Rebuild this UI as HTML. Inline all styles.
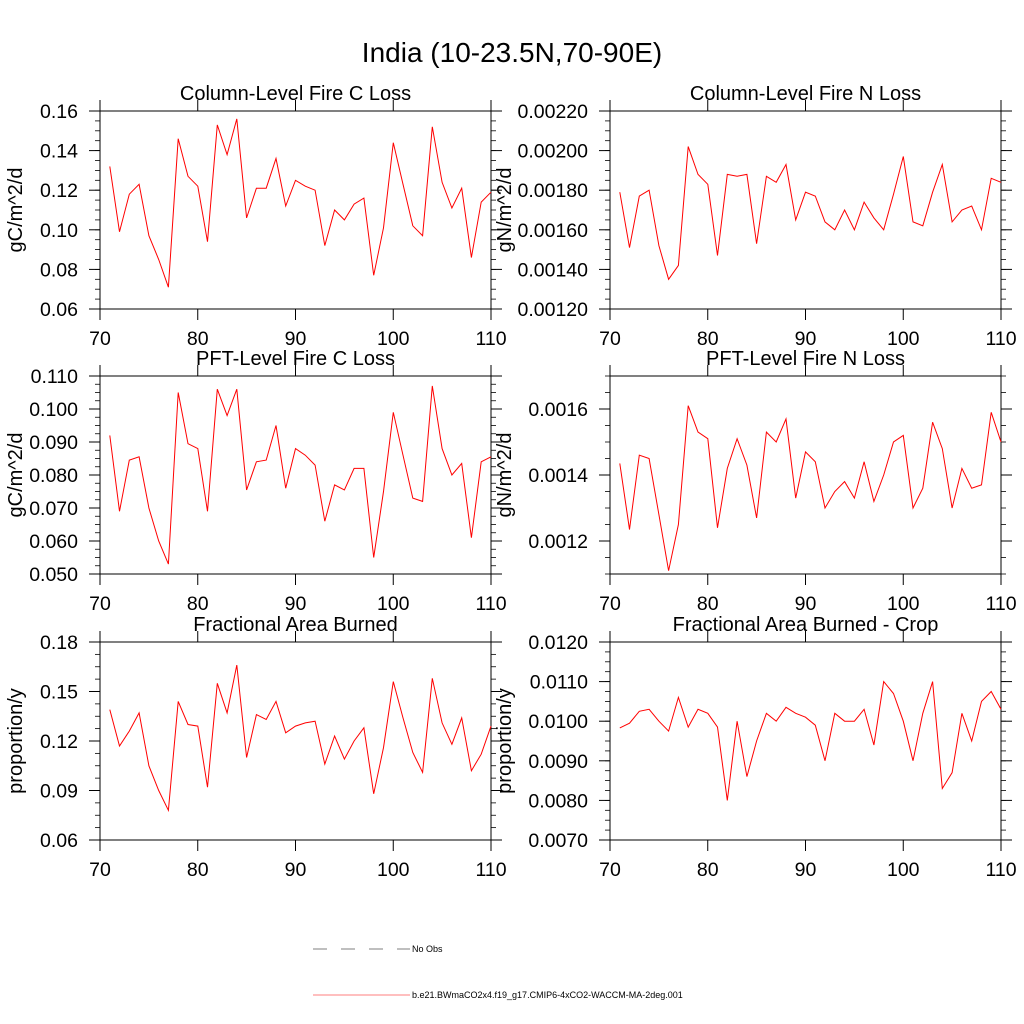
<!DOCTYPE html>
<html><head><meta charset="utf-8"><style>
body{margin:0;background:#fff}
svg{display:block;font-family:"Liberation Sans",sans-serif}
</style></head><body>
<svg id="chart" width="1024" height="1024" viewBox="0 0 1024 1024">
<rect width="1024" height="1024" fill="#fff"/>
<text x="512" y="62" font-size="28" text-anchor="middle">India (10-23.5N,70-90E)</text>
<g id="panels"></g>
<g>
<line x1="313" y1="949" x2="410" y2="949" stroke="#000" stroke-width="0.6" stroke-dasharray="14,14"/>
<text x="412" y="952" font-size="9">No Obs</text>
<line x1="313" y1="995" x2="410" y2="995" stroke="red" stroke-width="0.6"/>
<text x="412" y="998" font-size="9">b.e21.BWmaCO2x4.f19_g17.CMIP6-4xCO2-WACCM-MA-2deg.001</text>
</g>
</svg>
<script>
const years = Array.from({length:40},(_,i)=>71+i);
const colC = [0.132,0.099,0.118,0.123,0.097,0.085,0.071,0.146,0.127,0.122,0.094,0.153,0.138,0.156,0.106,0.121,0.121,0.136,0.112,0.125,0.122,0.120,0.092,0.110,0.105,0.113,0.116,0.077,0.101,0.144,0.123,0.102,0.097,0.152,0.124,0.111,0.121,0.086,0.114,0.119];
const colN = [0.00179,0.00151,0.00177,0.00180,0.00152,0.00135,0.00142,0.00202,0.00188,0.00183,0.00147,0.00188,0.00187,0.00188,0.00153,0.00187,0.00184,0.00193,0.00165,0.00179,0.00177,0.00164,0.00160,0.00170,0.00160,0.00174,0.00166,0.00160,0.00178,0.00197,0.00164,0.00162,0.00179,0.00193,0.00164,0.00170,0.00172,0.00160,0.00186,0.00184];
const pftC = [0.092,0.069,0.0845,0.0855,0.070,0.060,0.053,0.105,0.0895,0.088,0.069,0.106,0.098,0.106,0.0755,0.084,0.0845,0.095,0.076,0.088,0.086,0.083,0.066,0.077,0.0755,0.082,0.082,0.055,0.075,0.099,0.086,0.073,0.072,0.107,0.088,0.080,0.0835,0.061,0.084,0.0855];
const pftN = [0.001435,0.001235,0.00146,0.00145,0.00128,0.00111,0.00125,0.00161,0.00153,0.00151,0.00124,0.00142,0.00151,0.00143,0.00127,0.00153,0.0015,0.00157,0.00133,0.00147,0.00144,0.0013,0.00135,0.00138,0.00133,0.00144,0.00132,0.0014,0.0015,0.00152,0.0013,0.00136,0.00156,0.00148,0.0013,0.00142,0.00136,0.00137,0.00159,0.0015];
const fab = [0.139,0.117,0.126,0.137,0.105,0.090,0.078,0.144,0.130,0.129,0.092,0.155,0.137,0.166,0.110,0.136,0.133,0.144,0.125,0.129,0.131,0.132,0.106,0.123,0.109,0.120,0.128,0.088,0.116,0.156,0.134,0.113,0.101,0.158,0.131,0.118,0.134,0.102,0.112,0.129];
const fabCrop = [0.00983,0.00995,0.01025,0.0103,0.0100,0.00975,0.0106,0.00985,0.0103,0.0102,0.00985,0.0080,0.0100,0.0086,0.0095,0.0102,0.0100,0.01035,0.0102,0.0101,0.0099,0.0090,0.0102,0.0100,0.0100,0.0103,0.0094,0.0110,0.0107,0.0100,0.0090,0.0102,0.0110,0.0083,0.0087,0.0102,0.0095,0.0105,0.01075,0.0103];
const xTicks = [70,80,90,100,110];
const ticksColC = ["0.06","0.08","0.10","0.12","0.14","0.16"];
const ticksColN = ["0.00120","0.00140","0.00160","0.00180","0.00200","0.00220"];
const ticksPftC = ["0.050","0.060","0.070","0.080","0.090","0.100","0.110"];
const ticksPftN = ["0.0012","0.0014","0.0016"];
const ticksFab = ["0.06","0.09","0.12","0.15","0.18"];
const ticksCrop = ["0.0070","0.0080","0.0090","0.0100","0.0110","0.0120"];

const NS="http://www.w3.org/2000/svg";
const root=document.getElementById('panels');
function mk(tag,attrs,parent){const e=document.createElementNS(NS,tag);for(const k in attrs)e.setAttribute(k,attrs[k]);parent.appendChild(e);return e;}

const panels=[
 {name:'column-fire-c',title:'Column-Level Fire C Loss',ylab:'gC/m^2/d',data:colC,ticks:ticksColC,ymin:0.06,ymax:0.16,minor:0.005,x0:100,y0:111,yl:85},
 {name:'column-fire-n',title:'Column-Level Fire N Loss',ylab:'gN/m^2/d',data:colN,ticks:ticksColN,ymin:0.0012,ymax:0.0022,minor:0.00005,x0:610,y0:111,yl:106},
 {name:'pft-fire-c',title:'PFT-Level Fire C Loss',ylab:'gC/m^2/d',data:pftC,ticks:ticksPftC,ymin:0.05,ymax:0.11,minor:0.0025,x0:100,y0:376,yl:85},
 {name:'pft-fire-n',title:'PFT-Level Fire N Loss',ylab:'gN/m^2/d',data:pftN,ticks:ticksPftN,ymin:0.0011,ymax:0.0017,minor:0.00005,x0:610,y0:376,yl:106},
 {name:'fraction-burned',title:'Fractional Area Burned',ylab:'proportion/y',data:fab,ticks:ticksFab,ymin:0.06,ymax:0.18,minor:0.0075,x0:100,y0:642,yl:85},
 {name:'fraction-burned-crop',title:'Fractional Area Burned - Crop',ylab:'proportion/y',data:fabCrop,ticks:ticksCrop,ymin:0.007,ymax:0.012,minor:0.00025,x0:610,y0:642,yl:106}
];
const W=391,H=198;
panels.forEach(p=>{
 const g=mk('g',{},root);
 
 
 const xs=v=>p.x0+(v-70)/40*W;
 const ys=v=>p.y0+H-(v-p.ymin)/(p.ymax-p.ymin)*H;
 const t=mk('text',{x:p.x0+W/2,y:p.y0-11,'font-size':20,'text-anchor':'middle'},g);t.textContent=p.title;
 
 
 const fr=mk('rect',{x:p.x0,y:p.y0,width:W,height:H,fill:'none',stroke:'#000','stroke-width':1},g);
 
 
 const nMin=Math.round((p.ymax-p.ymin)/p.minor);
 for(let i=0;i<=nMin;i++){const v=p.ymin+i*p.minor,y=ys(v);
  mk('line',{x1:p.x0-5,x2:p.x0,y1:y,y2:y,stroke:'#000','stroke-width':0.8},g);
  mk('line',{x1:p.x0+W,x2:p.x0+W+5,y1:y,y2:y,stroke:'#000','stroke-width':0.8},g);}
 p.ticks.forEach(s=>{const y=ys(parseFloat(s));
  mk('line',{x1:p.x0-11,x2:p.x0,y1:y,y2:y,stroke:'#000','stroke-width':1},g);
  mk('line',{x1:p.x0+W,x2:p.x0+W+11,y1:y,y2:y,stroke:'#000','stroke-width':1},g);
  const tl=mk('text',{x:p.x0-22,y:y+7,'font-size':19.5,'text-anchor':'end'},g);tl.textContent=s;
  
  
 });
 xTicks.forEach(v=>{const x=xs(v);
  mk('line',{x1:x,x2:x,y1:p.y0+H,y2:p.y0+H+11,stroke:'#000','stroke-width':1},g);
  mk('line',{x1:x,x2:x,y1:p.y0-11,y2:p.y0,stroke:'#000','stroke-width':1},g);
  const tl=mk('text',{x:x,y:p.y0+H+36,'font-size':19.5,'text-anchor':'middle'},g);tl.textContent=v;
  
  
 });
 const yl=mk('text',{transform:`translate(${p.x0-p.yl+7},${p.y0+H/2}) rotate(-90)`,'font-size':20,'text-anchor':'middle'},g);yl.textContent=p.ylab;
 
 
 const pts=p.data.map((v,i)=>xs(years[i]).toFixed(1)+','+ys(v).toFixed(1)).join(' ');
 const ln=mk('polyline',{points:pts,fill:'none',stroke:'red','stroke-width':1},g);
 
 
});
</script>
</body></html>
